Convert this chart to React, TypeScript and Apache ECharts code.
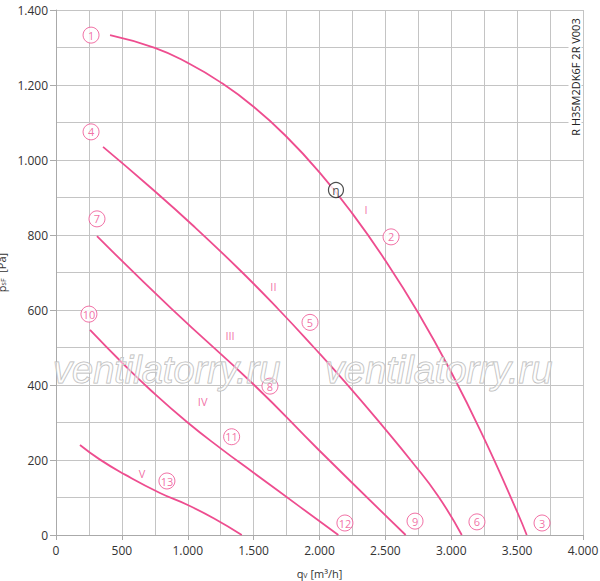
import React, { useEffect, useRef } from "react";
import * as echarts from "echarts";

const PINK = "#ee4d8f";

const curveI = [[410,1333],[750,1299],[1000,1259],[1250,1207],[1500,1142],[1750,1062],[2000,967],[2250,857],[2500,732],[2750,592],[3000,434],[3250,257],[3500,62],[3573,0]];
const curveII = [[357,1035],[700,932],[1050,822],[1397,706],[1688,602],[1953,502],[2206,403],[2497,283],[2700,196],[2900,104],[3080,0]];
const curveIII = [[311,797],[878,603],[1510,398],[1991,228],[2654,0]];
const curveIV = [[258,547],[500,460],[713,388],[992,302],[1257,229],[1500,166],[1852,75],[2143,0]];
const curveV = [[182,240],[334,201],[524,161],[789,112],[1000,80],[1200,44],[1410,0]];

const numLabels: [number, number, string][] = [
  [266,1333,"1"],[2543,795,"2"],[3689,32,"3"],[266,1075,"4"],[1928,567,"5"],[3195,35,"6"],
  [311,843,"7"],[1624,397,"8"],[2725,37,"9"],[250,589,"10"],[1333,262,"11"],[2193,32,"12"],[842,144,"13"],
];
const etaLabel: [number, number, string][] = [[2125,920,"η"]];
const romanLabels: [number, number, string][] = [
  [2353,869,"I"],[1650,662,"II"],[1321,533,"III"],[1113,357,"IV"],[653,163,"V"],
];

const xTicks = { min: 0, max: 4000, interval: 500 };
const yTicks = { min: 0, max: 1400, interval: 200 };

const fmt = (v: number) =>
  v >= 1000 ? `${Math.floor(v / 1000)}.${String(v % 1000).padStart(3, "0")}` : String(v);

const FONT = "'Open Sans', 'Noto Sans', sans-serif";

export default function App() {
  const ref = useRef<HTMLDivElement>(null);
  useEffect(() => {
    if (!ref.current) return;
    const chart = echarts.init(ref.current, undefined, { renderer: "svg" });
    const gridLine = { show: true, lineStyle: { color: "#c4c4c4", width: 1 } };
    const lineSeries = (data: number[][]) => ({
      type: "line",
      data,
      smooth: true,
      showSymbol: false,
      symbol: "none",
      lineStyle: { color: PINK, width: 1.8 },
      z: 3,
    });
    const wm = (x: number) => ({
      type: "text",
      x,
      y: 370,
      z: 10,
      style: {
        text: "ventilatorry.ru",
        fontSize: 38,
        fontStyle: "italic",
        fontFamily: "'Liberation Sans', Arial, sans-serif",
        fill: "rgba(255,255,255,0.45)",
        stroke: "#b8b8b8",
        lineWidth: 1,
        textAlign: "left",
        textVerticalAlign: "middle",
      },
    });
    const richBase = { fontSize: 11, color: "#333", fontFamily: FONT, verticalAlign: "bottom", lineHeight: 16 };
    const richSub = { fontSize: 7, color: "#333", fontFamily: FONT, verticalAlign: "bottom", lineHeight: 12 };
    chart.setOption({
      animation: false,
      grid: { left: 56, top: 10, right: 17, bottom: 46, outerBoundsMode: "none", containLabel: false },
      xAxis: {
        type: "value",
        ...xTicks,
        name: "{a|q}{s|V}{a| [m³/h]}",
        nameLocation: "middle",
        nameGap: 28,
        nameTextStyle: { rich: { a: richBase, s: richSub } },
        axisLine: { show: true, lineStyle: { color: "#aaa", width: 1 } },
        axisTick: { show: true, length: 5, lineStyle: { color: "#aaa" } },
        axisLabel: { formatter: fmt, color: "#333", fontSize: 12, fontFamily: FONT, margin: 9 },
        splitLine: gridLine,
        minorTick: { show: false, splitNumber: 2 },
        minorSplitLine: gridLine,
      },
      yAxis: {
        type: "value",
        ...yTicks,
        name: "{a|p}{s|sF}{a|  [Pa]}",
        nameLocation: "middle",
        nameGap: 26,
        nameTextStyle: { rich: { a: richBase, s: richSub } },
        axisLine: { show: true, lineStyle: { color: "#aaa", width: 1 } },
        axisTick: { show: true, length: 6, lineStyle: { color: "#aaa" } },
        axisLabel: { formatter: fmt, color: "#333", fontSize: 12, fontFamily: FONT, margin: 8 },
        splitLine: gridLine,
        minorTick: { show: false, splitNumber: 2 },
        minorSplitLine: gridLine,
      },
      graphic: [
        wm(53),
        wm(325),
        {
          type: "text",
          x: 575,
          y: 77,
          rotation: Math.PI / 2,
          z: 11,
          style: {
            text: "R H35M2DK6F 2R V003",
            fontSize: 11,
            fontFamily: FONT,
            fill: "#222",
            textAlign: "center",
            textVerticalAlign: "middle",
            backgroundColor: "#fff",
            padding: [1, 2],
          },
        },
      ],
      series: [
        lineSeries(curveI),
        lineSeries(curveII),
        lineSeries(curveIII),
        lineSeries(curveIV),
        lineSeries(curveV),
        {
          type: "scatter",
          data: numLabels.map(([x, y, n]) => ({ value: [x, y], name: n })),
          symbol: "circle",
          symbolSize: 16,
          clip: false,
          z: 5,
          itemStyle: { color: "#fff", borderColor: PINK, borderWidth: 1 },
          label: { show: true, position: "inside", formatter: (p: any) => p.name, color: PINK, fontSize: 11, fontFamily: FONT },
        },
        {
          type: "scatter",
          data: etaLabel.map(([x, y, n]) => ({ value: [x, y], name: n })),
          symbol: "circle",
          symbolSize: 15,
          z: 5,
          itemStyle: { color: "#fff", borderColor: "#222", borderWidth: 1.2 },
          label: { show: true, position: "inside", formatter: (p: any) => p.name, color: "#222", fontSize: 12, fontFamily: FONT },
        },
        {
          type: "scatter",
          data: romanLabels.map(([x, y, n]) => ({ value: [x, y], name: n })),
          symbolSize: 1,
          z: 5,
          itemStyle: { color: "rgba(0,0,0,0)" },
          label: { show: true, position: "inside", formatter: (p: any) => p.name, color: PINK, fontSize: 11, fontFamily: FONT },
        },
      ],
    });
    return () => chart.dispose();
  }, []);
  return <div ref={ref} style={{ width: 600, height: 581, position: "absolute", left: 0, top: 0 }} />;
}
